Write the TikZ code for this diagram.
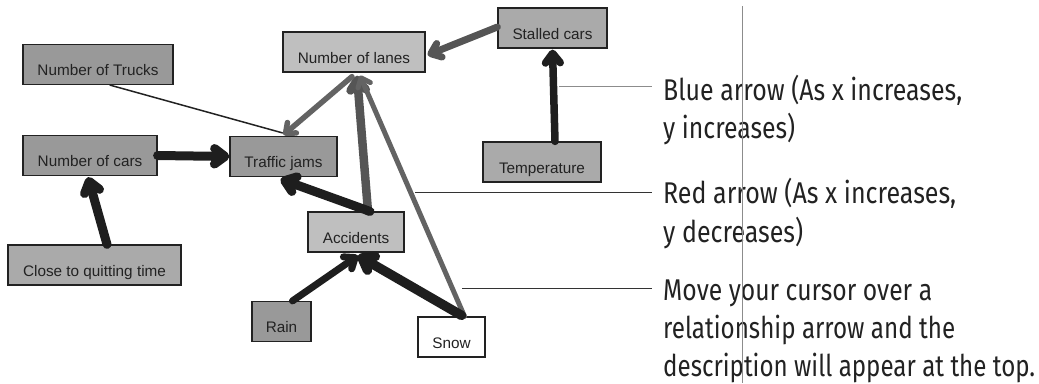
\documentclass[tikz,border=0pt]{standalone}
\usepackage{fontspec}
\usepackage{graphicx}
\usetikzlibrary{arrows.meta,calc}
\newfontfamily\nodefont{Liberation Sans}
\newfontfamily\rfont[FakeStretch=0.84]{Fira Sans}
\newcommand{\fitline}[2]{\resizebox{#1pt}{\height}{#2}}
\definecolor{boxline}{HTML}{222222}
\definecolor{darkfill}{HTML}{999999}
\definecolor{midfill}{HTML}{AAAAAA}
\definecolor{lightfill}{HTML}{BFBFBF}
\definecolor{arrblack}{HTML}{1E1E1E}
\definecolor{arrgray}{HTML}{555555}
\definecolor{arrmid}{HTML}{636363}
\definecolor{txt}{HTML}{222222}
\tikzset{
  box/.style={draw=boxline, line width=1.2pt, inner sep=0pt, minimum height=40pt,
    text height=31pt, text depth=9pt, text=txt, font=\nodefont\fontsize{15.3}{18}\selectfont},
  conn/.style={line cap=round, line join=round,
    -{Straight Barb[round, length=5pt 0.6, width=11pt 0.5]}},
  plain/.style={line cap=round},
  note/.style={anchor=base west, inner sep=0pt, text=txt, font=\rfont\fontsize{30}{36}\selectfont},
  guide/.style={line width=1pt, draw=#1}
}
\begin{document}
\begin{tikzpicture}[x=1pt,y=-1pt]
\useasboundingbox (0,0) rectangle (1039,383);
% nodes
\node[box, fill=darkfill, minimum width=150pt] (trucks) at (98,64.5) {Number of Trucks};
\node[box, fill=lightfill, minimum width=142pt] (lanes) at (354,52) {Number of lanes};
\node[box, fill=midfill, minimum width=109pt] (stalled) at (552.5,28) {Stalled cars};
\node[box, fill=darkfill, minimum width=134pt] (cars) at (90,155.5) {Number of cars};
\node[box, fill=darkfill, minimum width=107pt] (jams) at (283.5,156.5) {Traffic jams};
\node[box, fill=midfill, minimum width=118pt] (temp) at (542,162) {Temperature};
\node[box, fill=lightfill, minimum width=96pt] (accidents) at (356,232) {Accidents};
\node[box, fill=midfill, minimum width=173pt] (quitting) at (94.5,265) {Close to quitting time};
\node[box, fill=darkfill, minimum width=59pt] (rain) at (281.5,321.5) {Rain};
\node[box, fill=white, minimum width=67pt] (snow) at (451.5,337) {Snow};
% connectors
\draw[plain, draw=boxline, line width=1.5pt] ($(trucks.south)+(12,0)$) -- ($(jams.north)+(-1,-3)$);
\draw[conn, draw=arrgray, line width=7pt] ($(stalled.west)+(0,-1)$) -- ($(lanes.east)+(2,3)$);
\draw[conn, draw=arrgray, line width=8.5pt] ($(accidents.north)+(12,0)$) -- ($(lanes.south)+(3,3)$);
\draw[conn, draw=arrmid, line width=5pt] ($(snow.north)+(13,0)$) -- ($(lanes.south)+(6,3)$);
\draw[conn, draw=arrmid, line width=5.5pt] ($(lanes.south)+(-2,4)$) -- ($(jams.north)+(0,-1)$);
\draw[conn, draw=arrblack, line width=9pt] (cars.east) -- (jams.west);
\draw[conn, draw=arrblack, line width=9pt] ($(quitting.north)+(12.5,0)$) -- ($(cars.south)+(-2,1)$);
\draw[conn, draw=arrblack, line width=9pt] ($(accidents.north)+(14,0)$) -- ($(jams.south)+(-3,2)$);
\draw[conn, draw=arrblack, line width=7pt] ($(rain.north)+(11,0)$) -- ($(accidents.south)+(2,3)$);
\draw[conn, draw=arrblack, line width=9.5pt] ($(snow.north)+(10,-1)$) -- ($(accidents.south)+(2,3)$);
\draw[conn, draw=arrblack, line width=7.5pt] ($(temp.north)+(13,0)$) -- ($(stalled.south)+(0,1)$);
% notes
\node[note] (blue1) at (663,100) {\fitline{299}{Blue arrow (As x increases,}};
\node[note] (blue2) at (663,138.5) {\fitline{132}{y increases)}};
\node[note] (red1) at (663,203) {\fitline{293}{Red arrow (As x increases,}};
\node[note] (red2) at (663,242) {\fitline{140}{y decreases)}};
\node[note] (move1) at (663,300) {\fitline{269}{Move your cursor over a}};
\node[note] (move2) at (663,338.5) {\fitline{292}{relationship arrow and the}};
\node[note] (move3) at (663,376) {\fitline{372}{description will appear at the top.}};
\coordinate (bs) at (559,86);
\coordinate (be) at (652,86);
\coordinate (rs) at (415,192);
\coordinate (re) at (652,192);
\coordinate (ms) at (462,288);
\coordinate (me) at (652,288);
\draw[guide=black!45] (bs) -- (be);
\draw[guide=black!80] (rs) -- (re);
\draw[guide=black!80] (ms) -- (me);
\draw[line width=1pt, draw=black!45] (742,6) -- (742,383);
\end{tikzpicture}
\end{document}
